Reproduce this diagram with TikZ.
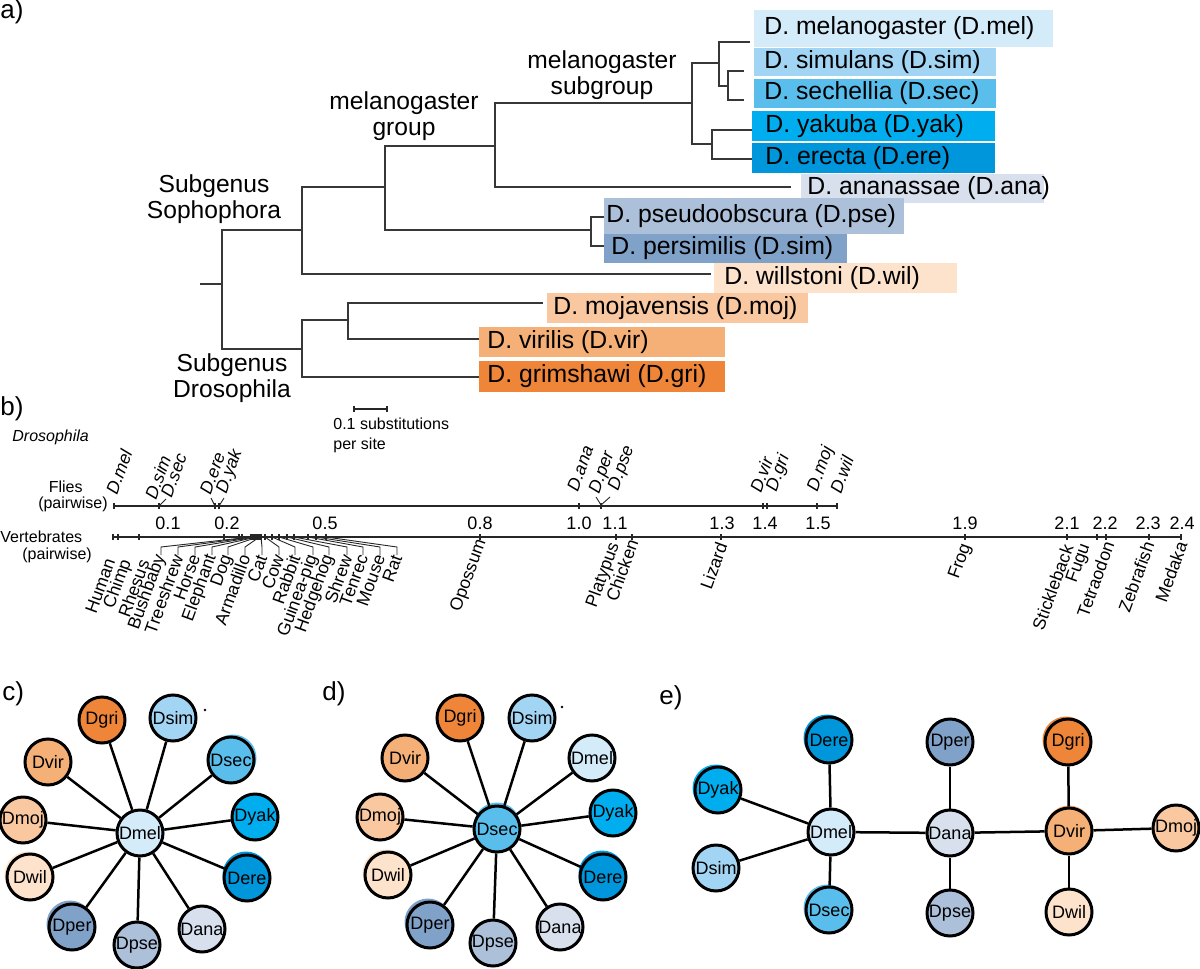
\documentclass[tikz,border=0pt]{standalone}
\usepackage{fontspec}
\setmainfont{Liberation Sans}
\definecolor{treecol}{RGB}{55,55,55}
\definecolor{cmel}{RGB}{212,235,250}
\definecolor{csim}{RGB}{162,212,243}
\definecolor{csec}{RGB}{90,190,236}
\definecolor{cyak}{RGB}{0,174,239}
\definecolor{cere}{RGB}{0,150,219}
\definecolor{cana}{RGB}{216,224,238}
\definecolor{cpse}{RGB}{173,192,218}
\definecolor{cper}{RGB}{128,161,200}
\definecolor{cwil}{RGB}{253,226,204}
\definecolor{cmoj}{RGB}{250,200,160}
\definecolor{cvir}{RGB}{245,176,120}
\definecolor{cgri}{RGB}{238,133,57}
\begin{document}
\begin{tikzpicture}[x=0.5pt,y=-0.5pt,
  branch/.style={draw=treecol,line width=1pt},
  tiplbl/.style={font=\fontsize{12.4pt}{14pt}\selectfont,inner sep=0pt,anchor=west},
  grp/.style={font=\fontsize{12.3pt}{13.3pt}\selectfont,align=center,inner sep=0pt},
  panel/.style={font=\fontsize{13pt}{15pt}\selectfont,inner sep=0pt,anchor=west},
  axln/.style={draw=black!85,line width=0.6pt},
  leadln/.style={draw=black!85,line width=0.45pt},
  numl/.style={font=\fontsize{9pt}{10pt}\selectfont,inner sep=0pt},
  axl/.style={font=\fontsize{8pt}{9.5pt}\selectfont,inner sep=0pt},
  flyl/.style={font=\fontsize{8.8pt}{10pt}\selectfont\itshape,inner sep=0pt,rotate=70,anchor=west},
  verl/.style={font=\fontsize{8.8pt}{10pt}\selectfont,inner sep=0pt,rotate=70,anchor=east},
  sp/.style={circle,draw=black,line width=1.5pt,minimum size=23pt,inner sep=0pt,font=\fontsize{9pt}{10pt}\selectfont},
  shd/.style={circle,minimum size=23.5pt,inner sep=0pt},
  link/.style={draw=black,line width=1.25pt}
]
\useasboundingbox (0,0) rectangle (1200,969);

% ---------------- panel a ----------------
\node[panel] (pa) at (0,12) {a)};

% label boxes
\fill[cmel] (754,10) rectangle (1053,47);
\fill[csim] (754,48) rectangle (996,76);
\fill[csec] (754,79) rectangle (996,108);
\fill[cyak] (752,111) rectangle (995,141);
\fill[cere] (752,143) rectangle (995,173);
\fill[cana] (801,174) rectangle (1044,203);
\fill[cpse] (604,198) rectangle (904,234);
\fill[cper] (604,234) rectangle (847,263);
\fill[cwil] (714,263) rectangle (957,293);
\fill[cmoj] (547,293) rectangle (808,323);
\fill[cvir] (479,327) rectangle (725,357);
\fill[cgri] (479,361) rectangle (725,392);

\node[tiplbl] (lmel) at (764,28.5) {D. melanogaster (D.mel)};
\node[tiplbl] (lsim) at (764,62) {D. simulans (D.sim)};
\node[tiplbl] (lsec) at (764,93.5) {D. sechellia (D.sec)};
\node[tiplbl] (lyak) at (765,126) {D. yakuba (D.yak)};
\node[tiplbl] (lere) at (765,158) {D. erecta (D.ere)};
\node[tiplbl] (lana) at (807,188.5) {D. ananassae (D.ana)};
\node[tiplbl] (lpse) at (606,216) {D. pseudoobscura (D.pse)};
\node[tiplbl] (lper) at (611,248.5) {D. persimilis (D.sim)};
\node[tiplbl] (lwil) at (724,278) {D. willstoni (D.wil)};
\node[tiplbl] (lmoj) at (553,308) {D. mojavensis (D.moj)};
\node[tiplbl] (lvir) at (487,342) {D. virilis (D.vir)};
\node[tiplbl] (lgri) at (487,376.5) {D. grimshawi (D.gri)};

% tree coordinates
\coordinate (nRoot) at (222,284);
\coordinate (nSoph) at (302,230);
\coordinate (nMelG) at (385,187);
\coordinate (nMelA) at (495,146);
\coordinate (nSub) at (692,103);
\coordinate (nMS) at (719,63);
\coordinate (nSS) at (728,86);
\coordinate (nYE) at (712,144);
\coordinate (nObs) at (591,230);
\coordinate (nDros) at (302,349);
\coordinate (nVM) at (348,320);
\coordinate (tmel) at (750,42);
\coordinate (tsim) at (744,71);
\coordinate (tsec) at (744,100);
\coordinate (tyak) at (752,130);
\coordinate (tere) at (752,159);
\coordinate (tana) at (791,187);
\coordinate (tpse) at (604,217);
\coordinate (tper) at (604,246);
\coordinate (twil) at (711,274);
\coordinate (tmoj) at (543,303);
\coordinate (tvir) at (479,339);
\coordinate (tgri) at (479,377);
\coordinate (stub) at (200,284);

\draw[branch] (stub) -- (nRoot);
\draw[branch] (nSoph) -| (nRoot) |- (nDros);
\draw[branch] (nMelG) -| (nSoph) |- (twil);
\draw[branch] (nMelA) -| (nMelG) |- (nObs);
\draw[branch] (nSub) -| (nMelA) |- (tana);
\draw[branch] (nMS) -| (nSub) |- (nYE);
\draw[branch] (tmel) -| (nMS) |- (nSS);
\draw[branch] (tsim) -| (nSS) |- (tsec);
\draw[branch] (tyak) -| (nYE) |- (tere);
\draw[branch] (tpse) -| (nObs) |- (tper);
\draw[branch] (nVM) -| (nDros) |- (tgri);
\draw[branch] (tmoj) -| (nVM) |- (tvir);

\node[grp] (gsub) at (602,75) {melanogaster\\subgroup};
\node[grp] (ggrp) at (404,116) {melanogaster\\group};
\node[grp] (gsoph) at (214,199) {Subgenus\\Sophophora};
\node[grp] (gdros) at (232,378) {Subgenus\\Drosophila};

% scale bar
\coordinate (sb1) at (354,409);
\coordinate (sb2) at (387,409);
\draw[axln] (sb1) -- (sb2);
\draw[axln] ([yshift=1.5pt]sb1) -- ([yshift=-1.5pt]sb1);
\draw[axln] ([yshift=1.5pt]sb2) -- ([yshift=-1.5pt]sb2);
\node[axl,anchor=north west,align=left,font=\fontsize{8pt}{10pt}\selectfont] (sbl) at (333,418) {0.1 substitutions\\per site};

% ---------------- panel b ----------------
\node[panel] (pb) at (0,409) {b)};
\node[axl,anchor=west,font=\fontsize{8pt}{9pt}\selectfont\itshape] (dros) at (12,437) {Drosophila};
\node[axl,anchor=east] (flies) at (83,487) {Flies};
\node[axl,anchor=east] (fpw) at (108,504) {(pairwise)};
\node[axl,anchor=west] (vert) at (0,537) {Vertebrates};
\node[axl,anchor=west] (vpw) at (22,555) {(pairwise)};

\coordinate (fa1) at (114,506);
\coordinate (fa2) at (837,506);
\draw[axln] (fa1) -- (fa2);
\foreach \x in {114,159,215,219,579,601,763,767,817,837}
  \draw[axln] (\x,503) -- (\x,509);

\coordinate (va1) at (113,537);
\coordinate (va2) at (1181,537);
\draw[axln] (va1) -- (va2);
\foreach \x in {113,118,139,224,239,242,251,253,255,256.5,258,259.5,261,265,272,279,287,294,308,316,326,480,616,632,721,965,1067,1097,1106,1149,1181}
  \draw[axln] (\x,534) -- (\x,540);

% numbers
\foreach \x/\v in {168/0.1,227/0.2,325/0.5,480/0.8,579/1.0,615/1.1,722/1.3,765/1.4,818/1.5,965/1.9,1067/2.1,1105/2.2,1148/2.3,1182/2.4}
  \node[numl] (n\v) at (\x,523) {\v};

% fly labels
\draw[leadln] (159,506) -- (166,499);
\draw[leadln] (215,506) -- (211,498);
\draw[leadln] (219,506) -- (224,498);
\draw[leadln] (601,505) -- (596,497);
\draw[leadln] (601,505) -- (610,497);
\node[flyl] (fmel) at (111,494) {D.mel};
\node[flyl] (fsim) at (150,499) {D.sim};
\node[flyl] (fsec) at (166,497) {D.sec};
\node[flyl] (fere) at (205,494) {D.ere};
\node[flyl] (fyak) at (222,493) {D.yak};
\node[flyl] (fana) at (572,491) {D.ana};
\node[flyl] (fper) at (595,493) {D.per};
\node[flyl] (fpse) at (614,490) {D.pse};
\node[flyl] (fvir) at (755,492) {D.vir};
\node[flyl] (fgri) at (772,491) {D.gri};
\node[flyl] (fmoj) at (813,491) {D.moj};
\node[flyl] (fwil) at (835,493) {D.wil};

% vertebrate labels
\node[verl] (vhum) at (110,559) {Human};
\node[verl] (vchi) at (127,560) {Chimp};
\node[verl] (vrhe) at (144,560) {Rhesus};
\foreach \t/\s/\n in {251/161/Bushbaby,253/178/Treeshrew,255/195/Horse,256.5/212/Elephant,258/228/Dog,259.5/245/Armadillo,261/262/Cat,265/279/Cow,272/295/Rabbit,279/313/Guinea-pig,287/329/Hedgehog,294/347/Shrew,308/363/Tenrec,316/380/Mouse,326/397/Rat}{
  \coordinate (vt\s) at (\t,537);
  \node[verl] (vl\s) at (\s,555) {\n};
  \draw[leadln] (vt\s) -- (\s,547) -- (vl\s.east);
}
\node[verl] (vopo) at (482,540) {Opossum};
\node[verl] (vpla) at (615,543) {Platypus};
\node[verl] (vchk) at (633,540) {Chicken};
\node[verl] (vliz) at (722,543) {Lizard};
\node[verl] (vfro) at (967,544) {Frog};
\node[verl] (vsti) at (1068,545) {Stickleback};
\node[verl] (vfug) at (1086,544) {Fugu};
\node[verl] (vtet) at (1109,542) {Tetraodon};
\node[verl] (vzeb) at (1149,542) {Zebrafish};
\node[verl] (vmed) at (1182,542) {Medaka};

% ---------------- panel c ----------------
\node[panel] (pc) at (2,694) {c)};
\node[shd,fill=csec] at (233,758) {};
\node[shd,fill=cere] at (246,875) {};
\node[shd,fill=cper] at (70,924) {};
\node[shd,fill=cwil] at (28,875) {};
\node[sp,fill=cmel] (c-mel) at (140,833) {Dmel};
\node[sp,fill=cgri] (c-gri) at (102,720) {Dgri};
\node[sp,fill=csim] (c-sim) at (173,718) {Dsim};
\node[sp,fill=csec] (c-sec) at (231,760) {Dsec};
\node[sp,fill=cyak] (c-yak) at (255,817) {Dyak};
\node[sp,fill=cere] (c-ere) at (247,878) {Dere};
\node[sp,fill=cana] (c-ana) at (202,929) {Dana};
\node[sp,fill=cpse] (c-pse) at (137,945) {Dpse};
\node[sp,fill=cper] (c-per) at (72,927) {Dper};
\node[sp,fill=cwil] (c-wil) at (30,877) {Dwil};
\node[sp,fill=cmoj] (c-moj) at (23,820) {Dmoj};
\node[sp,fill=cvir] (c-vir) at (48,762) {Dvir};
\foreach \n in {gri,sim,sec,yak,ere,ana,pse,per,wil,moj,vir}
  \draw[link] (c-mel) -- (c-\n);
\fill (205,710) circle (1.3);

% ---------------- panel d ----------------
\node[panel] (pd) at (322,694) {d)};
\node[shd,fill=csec] at (497,826) {};
\node[shd,fill=cere] at (602,874) {};
\node[shd,fill=cper] at (428,922) {};
\node[shd,fill=cwil] at (386,873) {};
\node[sp,fill=csec] (d-sec) at (497,829) {Dsec};
\node[sp,fill=cgri] (d-gri) at (460,718) {Dgri};
\node[sp,fill=csim] (d-sim) at (532,718) {Dsim};
\node[sp,fill=cmel] (d-mel) at (592,758) {Dmel};
\node[sp,fill=cyak] (d-yak) at (613,813) {Dyak};
\node[sp,fill=cere] (d-ere) at (603,877) {Dere};
\node[sp,fill=cana] (d-ana) at (560,927) {Dana};
\node[sp,fill=cpse] (d-pse) at (493,943) {Dpse};
\node[sp,fill=cper] (d-per) at (430,925) {Dper};
\node[sp,fill=cwil] (d-wil) at (388,875) {Dwil};
\node[sp,fill=cmoj] (d-moj) at (380,817) {Dmoj};
\node[sp,fill=cvir] (d-vir) at (405,758) {Dvir};
\foreach \n in {gri,sim,mel,yak,ere,ana,pse,per,wil,moj,vir}
  \draw[link] (d-sec) -- (d-\n);
\fill (562,707) circle (1.3);

% ---------------- panel e ----------------
\node[panel] (pe) at (659,698) {e)};
\node[shd,fill=cere] at (827,738) {};
\node[shd,fill=cyak] at (716,788) {};
\node[shd,fill=csec] at (827,908) {};
\node[shd,fill=cgri] at (1066,740) {};
\node[shd,fill=cvir] at (1069,829) {};
\node[sp,fill=cmel] (e-mel) at (831,832) {Dmel};
\node[sp,fill=cere] (e-ere) at (829,740) {Dere};
\node[sp,fill=cyak] (e-yak) at (718,790) {Dyak};
\node[sp,fill=csim] (e-sim) at (716,868) {Dsim};
\node[sp,fill=csec] (e-sec) at (829,910) {Dsec};
\node[sp,fill=cana] (e-ana) at (950,833) {Dana};
\node[sp,fill=cper] (e-per) at (950,742) {Dper};
\node[sp,fill=cpse] (e-pse) at (950,913) {Dpse};
\node[sp,fill=cvir] (e-vir) at (1069,831) {Dvir};
\node[sp,fill=cgri] (e-gri) at (1068,742) {Dgri};
\node[sp,fill=cwil] (e-wil) at (1069,912) {Dwil};
\node[sp,fill=cmoj] (e-moj) at (1176,828) {Dmoj};
\draw[link] (e-mel) -- (e-ere);
\draw[link] (e-mel) -- (e-yak);
\draw[link] (e-mel) -- (e-sim);
\draw[link] (e-mel) -- (e-sec);
\draw[link] (e-mel) -- (e-ana);
\draw[link] (e-ana) -- (e-per);
\draw[link] (e-ana) -- (e-pse);
\draw[link] (e-ana) -- (e-vir);
\draw[link] (e-vir) -- (e-gri);
\draw[link] (e-vir) -- (e-wil);
\draw[link] (e-vir) -- (e-moj);
\end{tikzpicture}
\end{document}
